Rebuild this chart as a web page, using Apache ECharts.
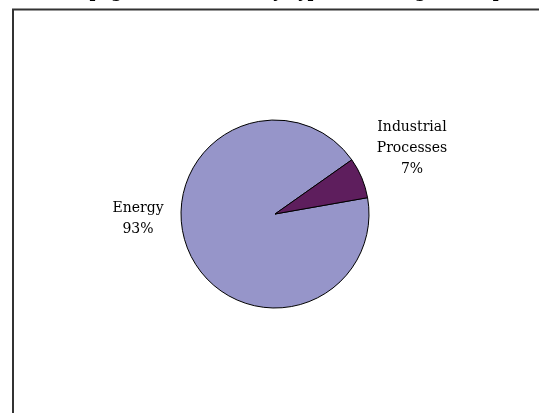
<!DOCTYPE html>
<html>
<head>
<meta charset="utf-8">
<script src="https://cdn.jsdelivr.net/npm/echarts@6/dist/echarts.min.js"></script>
<style>
  html, body { margin: 0; padding: 0; background: #fff; }
  #main { width: 539px; height: 413px; }
</style>
</head>
<body>
<div id="main"></div>
<script>
const myChart = echarts.init(document.getElementById('main'));

const sectors = ['Energy', 'Industrial\nProcesses'];
const shares = [93, 7];
const sliceColors = ['#9695c9', '#5e1e5d'];

// label anchors, Excel-style placement
const labelAnchors = [[138, 219], [412, 148]];

myChart.setOption({
  animation: false,
  title: {
    text: 'Anthropogenic Emissions by Type, 2004, (Tg CO2 Eq.)',
    left: 'center',
    top: -20,
    textStyle: {
      fontFamily: 'DejaVu Serif',
      fontWeight: 'bold',
      fontSize: 16,
      color: '#000',
    },
  },
  graphic: [
    {
      type: 'rect',
      shape: { x: 13, y: 9.5, width: 600, height: 500 },
      style: { fill: 'none', stroke: '#333', lineWidth: 2 },
      silent: true,
    },
  ],
  series: [
    {
      type: 'pie',
      center: [275, 214],
      radius: 94,
      startAngle: 10,
      clockwise: true,
      label: {
        show: true,
        position: 'outside',
        formatter: (p) => `${p.name}\n${p.percent.toFixed(0)}%`,
        fontFamily: 'DejaVu Serif',
        fontSize: 14,
        lineHeight: 21,
        color: '#000',
      },
      labelLine: { show: false },
      labelLayout: (params) => ({
        x: labelAnchors[params.dataIndex][0],
        y: labelAnchors[params.dataIndex][1],
        align: 'center',
        verticalAlign: 'middle',
      }),
      itemStyle: { borderColor: '#000', borderWidth: 1 },
      data: sectors.map((name, i) => ({
        name,
        value: shares[i],
        itemStyle: { color: sliceColors[i] },
      })),
    },
  ],
});
</script>
</body>
</html>
